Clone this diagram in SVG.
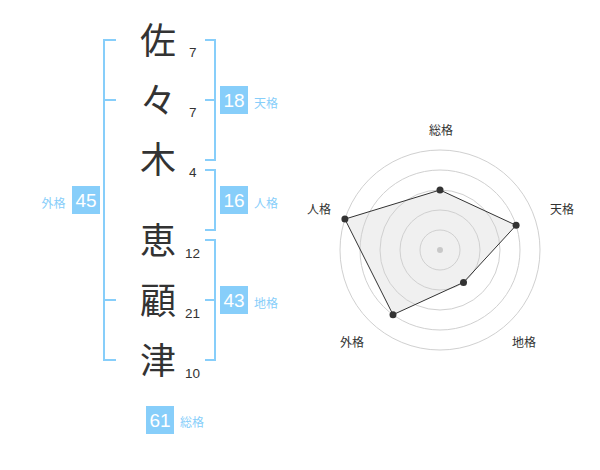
<svg xmlns="http://www.w3.org/2000/svg" width="600" height="470" viewBox="0 0 600 470">
<style>
.ch{font-family:"Noto Sans CJK JP","Noto Sans CJK SC",sans-serif;font-size:36px;fill:#333;text-anchor:middle}
.num{font-family:"Liberation Sans",Arial,sans-serif;font-size:13.5px;fill:#333}
.br{fill:none;stroke:#87cefa;stroke-width:2}
.box{fill:#87cefa}
.bn{font-family:"Liberation Sans",Arial,sans-serif;font-size:19px;fill:#fff;text-anchor:middle}
.lb{font-family:"Noto Sans CJK JP","Noto Sans CJK SC",sans-serif;font-size:12px;fill:#87cefa}
.rl{font-family:"Noto Sans CJK JP","Noto Sans CJK SC",sans-serif;font-size:12px;fill:#333;text-anchor:middle}
.ring{fill:none;stroke:#d0d0d0;stroke-width:1}
.dot{fill:#333}
</style>
<rect width="600" height="470" fill="#fff"/>

<g id="connectors">
<path class="br" d="M116,40 H104 V360 H116 M104,100 H116 M104,300 H116"/>
<path class="br" d="M205,40 H215 V160 H205 M205,100 H215"/>
<path class="br" d="M205,170 H215 V230 H205"/>
<path class="br" d="M205,240 H215 V360 H205 M205,300 H215"/>
</g>

<g id="char-1"><text class="ch" x="158" y="54">佐</text><text class="num" x="189" y="57">7</text></g>
<g id="char-2"><text class="ch" x="158" y="114">々</text><text class="num" x="189" y="117">7</text></g>
<g id="char-3"><text class="ch" x="158" y="173">木</text><text class="num" x="189" y="177">4</text></g>
<g id="char-4"><text class="ch" x="158" y="254">恵</text><text class="num" x="185" y="258">12</text></g>
<g id="char-5"><text class="ch" x="158" y="314">顧</text><text class="num" x="185" y="318">21</text></g>
<g id="char-6"><text class="ch" x="158" y="374">津</text><text class="num" x="185" y="378">10</text></g>

<g id="tenkaku"><rect class="box" x="220" y="86" width="28" height="28"/><text class="bn" x="234" y="106.8">18</text><text class="lb" x="254" y="108">天格</text></g>
<g id="jinkaku"><rect class="box" x="220" y="186" width="28" height="28"/><text class="bn" x="234" y="206.8">16</text><text class="lb" x="254" y="208">人格</text></g>
<g id="chikaku"><rect class="box" x="220" y="286" width="28" height="28"/><text class="bn" x="234" y="306.8">43</text><text class="lb" x="254" y="308">地格</text></g>
<g id="gaikaku"><rect class="box" x="72" y="186" width="28" height="28"/><text class="bn" x="86" y="206.8">45</text><text class="lb" x="41.5" y="208">外格</text></g>
<g id="soukaku"><rect class="box" x="146" y="406" width="28" height="28"/><text class="bn" x="160" y="426.8">61</text><text class="lb" x="180" y="427">総格</text></g>

<g id="radar">
<polygon points="440,190 516.1,225.3 463.5,282.4 393,314.7 344.9,219.1" fill="#f0f0f0" stroke="none"/>
<circle class="ring" cx="440" cy="250" r="20"/>
<circle class="ring" cx="440" cy="250" r="40"/>
<circle class="ring" cx="440" cy="250" r="60"/>
<circle class="ring" cx="440" cy="250" r="80"/>
<circle class="ring" cx="440" cy="250" r="100"/>
<circle cx="440" cy="250" r="3" fill="#c8c8c8"/>
<polygon points="440,190 516.1,225.3 463.5,282.4 393,314.7 344.9,219.1" fill="none" stroke="#333" stroke-width="1"/>
<circle class="dot" cx="440" cy="190" r="3.5"/>
<circle class="dot" cx="516.1" cy="225.3" r="3.5"/>
<circle class="dot" cx="463.5" cy="282.4" r="3.5"/>
<circle class="dot" cx="393" cy="314.7" r="3.5"/>
<circle class="dot" cx="344.9" cy="219.1" r="3.5"/>
<text class="rl" x="441" y="135">総格</text>
<text class="rl" x="562" y="213.5">天格</text>
<text class="rl" x="524" y="346.5">地格</text>
<text class="rl" x="352" y="346.5">外格</text>
<text class="rl" x="319" y="213.5">人格</text>
</g>
</svg>
